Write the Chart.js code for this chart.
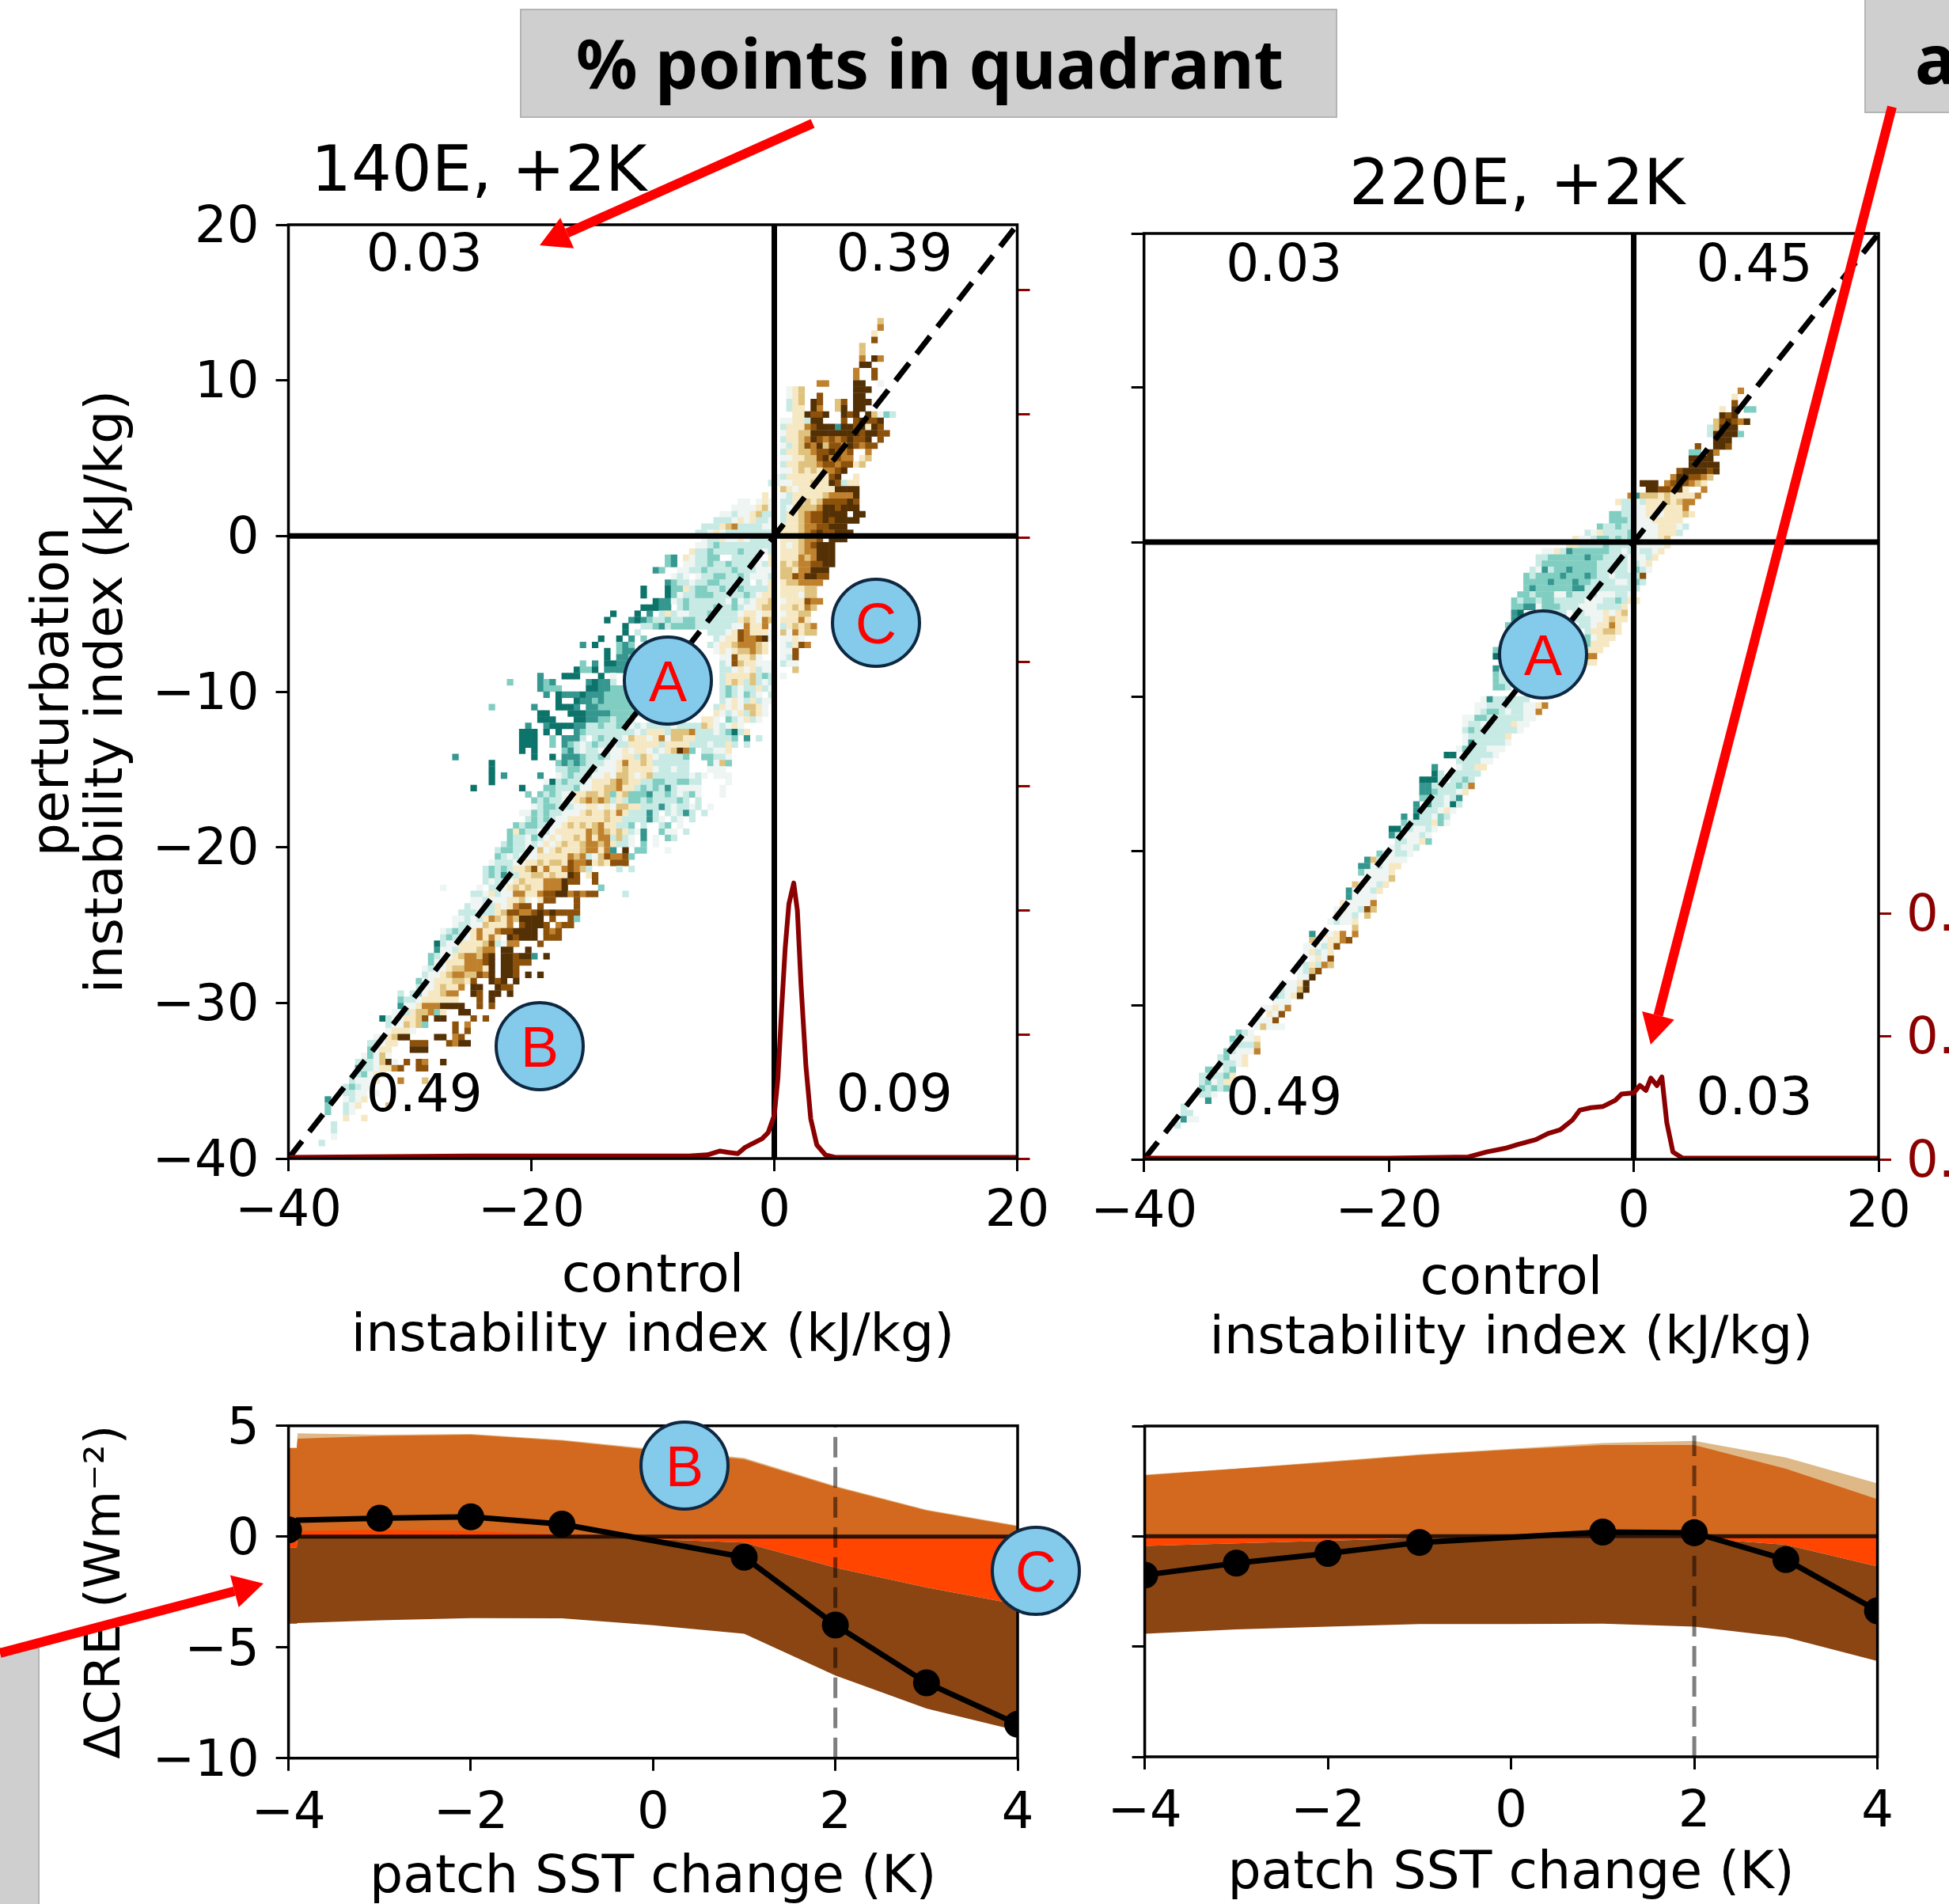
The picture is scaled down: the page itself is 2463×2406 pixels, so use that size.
<!DOCTYPE html>
<html>
<head>
<meta charset="utf-8">
<title>instability index and CRE</title>
<script src="https://cdn.jsdelivr.net/npm/chart.js@4/dist/chart.umd.min.js"></script>
<style>
  html, body { margin: 0; padding: 0; background: #fff; }
  body { position: relative; width: 2463px; height: 2406px; overflow: hidden; }
  canvas { position: absolute; }
  svg { position: absolute; left: 0; top: 0; }
</style>
</head>
<body>
<canvas id="scatter140"></canvas>
<canvas id="scatter220"></canvas>
<canvas id="cre140"></canvas>
<canvas id="cre220"></canvas>
<svg id="notes" width="2463" height="2406" xmlns="http://www.w3.org/2000/svg"></svg>

<script>
// density curves along control instability index
const densX140 = [-40, -25, -12, -7, -5.5, -4.5, -3.8, -3, -2.4, -1.8, -1, -0.5, 0, 0.3, 0.6, 0.9, 1.2, 1.6, 1.9, 2.2, 2.6, 3, 3.5, 4.2, 5, 20]
const densY140 = [0.001, 0.002, 0.002, 0.002, 0.003, 0.006, 0.005, 0.004, 0.009, 0.012, 0.016, 0.021, 0.035, 0.065, 0.12, 0.17, 0.205, 0.222, 0.2, 0.14, 0.075, 0.032, 0.011, 0.003, 0.001, 0.001]
const densX220 = [-40, -20, -13.5, -12, -10.5, -9.5, -8, -7, -6, -5, -4.4, -3.5, -2.5, -1.5, -1, 0, 0.5, 1, 1.4, 1.9, 2.3, 2.7, 3.2, 4, 20]
const densY220 = [0.001, 0.001, 0.002, 0.006, 0.009, 0.012, 0.016, 0.021, 0.024, 0.032, 0.04, 0.042, 0.043, 0.048, 0.053, 0.054, 0.06, 0.056, 0.066, 0.06, 0.067, 0.03, 0.006, 0.001, 0.001]

// fraction of points per quadrant: upper left, upper right, lower left, lower right
const quad140 = ['0.03', '0.39', '0.49', '0.09']
const quad220 = ['0.03', '0.45', '0.49', '0.03']

// heat map colour classes
const heatColors = {
  t: '#0c746a', u: '#35978f', v: '#80cdc1', w: '#c7eae5', x: '#eef5f3',
  a: '#f6e8c3', b: '#dfc27d', c: '#bf812d', d: '#8c510a', e: '#543005'
}

// heat map cells as [row from top, first column, classes], '.' is an empty cell
const heat140 = [
  [15,97,'b'],[16,97,'c'],[17,96,'a'],[18,96,'d'],[19,94,'b'],[20,94,'b'],[21,94,'c.ec'],[22,94,'ee'],[23,93,'c..d'],[24,93,'c..d'],
  [25,87,'cc'],[25,93,'ee..x'],[26,82,'xab'],[26,93,'eee'],[27,82,'xab'],[27,87,'d'],[27,93,'ee'],[28,82,'wab'],[28,86,'ed'],[28,90,'bd.eee'],
  [29,82,'waa'],[29,86,'ec'],[29,90,'be.ee'],[30,83,'aaedde'],[30,91,'ede.ebxvw'],[31,81,'xxaawee'],[31,91,'d.dedde'],
  [32,81,'waaacdeeeueedeaed'],[33,81,'xaabbeeeeeeeedeedd'],[34,81,'waabcedcdcdedde.d'],[35,81,'xwabdcebddcedcdd'],[36,81,'waabbcddedcd..c'],
  [37,81,'xxaabbdecdcc.ab'],[38,81,'waabbbcddcddab'],[39,81,'xxababaccde'],[40,80,'xwaaaaaaade..a'],[41,79,'wxxxaaabaaedwaa'],[42,81,'baxaaaaaaeeee'],
  [43,78,'a'],[43,81,'xwaaaaabcccce'],[44,74,'xx.xax'],[44,81,'wwaababdddded'],[45,73,'xxxxabx'],[45,81,'wxabbbceedeee'],
  [46,71,'xxwxxabww'],[46,81,'waabcddeeee.ee'],[47,70,'wwwxaxawwx'],[47,81,'waabcddedeeee'],[48,68,'wwwabcwwwwxx'],[48,81,'aaabccddeee'],
  [49,67,'wwxaxwwwwwwww'],[49,81,'aaabcdeddeee'],[50,68,'xwwaxxaxwwwx'],[50,81,'aaabccd.eee'],[51,67,'xxwvwwwwwwwww'],[51,81,'axabcdeee'],
  [52,66,'awwvwwwwvwwwxw'],[52,81,'aaabcceee'],[53,62,'vu.axwwvv..wwwwx.a'],[53,81,'aaacbceee'],[54,62,'vu.xxwwvwwvwwwwxwa'],[54,81,'babccddee'],
  [55,60,'uv..xxwwvwwwwvwwwxxx'],[55,81,'bbacceee'],[56,63,'xwx.xwwvvwwvwxxxw'],[56,81,'bbdceedd'],[57,62,'uvwwxwwvvwwwww.wxa'],[57,81,'abbcccc'],
  [58,58,'t...tvvawvvwwvwwvwwwwa'],[58,81,'aaaabb'],[59,58,'t...tvxwwvvvwwwwwvwxaa'],[59,81,'aaaxbb'],[60,60,'tuuxwvwwwwwwxvxwxaab'],[60,81,'xaaadcc'],
  [61,58,'tttuu.wvwwwwvwwvwxxabb'],[61,81,'aabacb'],[62,53,'t'],[62,57,'t.u.wawxxwwwvwwwwxaaxaa'],[62,81,'xaabb'],
  [63,52,'t'],[63,56,'utuvwwvwwvvwwwwwwwabaxcb'],[63,81,'aaaca'],[64,55,'t..wwvuwvvvvwwwwwwxxcaac'],[64,81,'wababc'],
  [65,55,'t.w'],[65,69,'wwwxadcaaax'],[65,81,'bxcabb'],[66,51,'t..t.u.v'],[66,70,'wxaadccdex'],[66,81,'xxax'],
  [67,48,'u.t...vuv'],[67,69,'wxaabcccba'],[67,81,'xwadc'],[68,52,'t.vuu'],[68,70,'xaxabbcba'],[68,81,'xxd'],
  [69,52,'t.uuv'],[69,71,'xxdaabx'],[69,81,'xwd'],[70,48,'v.u.ttuuu'],[70,71,'wxdbaaxxx'],[70,81,'wxx'],
  [71,47,'tvvt.uuuuv'],[71,71,'wwxaxawxx'],[71,83,'b'],[72,41,'u...ttt...t.x'],[72,71,'waaaabwvw'],[72,81,'x'],
  [73,36,'v'],[73,41,'uvu'],[73,49,'utuuw'],[73,71,'wabawbwxw'],[74,41,'uvvv....ttuuvvv'],[74,71,'wvwxwwawx'],
  [75,42,'u.tuuutuuuvvvv'],[75,71,'wvwxvwx.w'],[76,44,'t..tuuvuvvvvv'],[76,71,'wxaxwawxx'],
  [77,33,'v'],[77,40,'u...tttu.uuvvvvvvv'],[77,70,'waxaxbbax'],[78,41,'tt...tttuuuuvvvvw'],[78,70,'axwxawbax'],
  [79,41,'ttt...ttuuvvwvvw'],[79,59,'x'],[79,68,'aax.vwxawx'],[80,39,'u..uttttuuwwvwwvvxwxwwwwxwwwwbaxwxax'],
  [81,38,'ttt.t.t..uvwwwwwwwwxwaaawbbbcwwwxwvtwa'],[82,38,'ttt..v.uuuw.wvwwwxbaaxacxbbaawwwwwwv.u.w'],
  [83,38,'ttt..v.uvwxwvwwxwwaaaaawaaaawwwxwwaw.w'],[84,38,'t.t'],[84,45,'vuwxwwxwxxaxaaxwxabecv.wwxxa'],
  [85,27,'u'],[85,40,'t..t.uuuvwwvwxxaawbaxwwwwv..vvwwx'],[86,33,'t'],[86,44,'vuvuvwwwxxacaabawwwwww...vxbv'],
  [87,33,'t'],[87,44,'wwvvwwwxxxabaaaaxwwxww...xxx'],[88,33,'t.u'],[88,41,'u'],[88,44,'xwvwwwxxaxbbaxabwwwwwwxwx.xxx'],
  [89,33,'t'],[89,42,'xtwvwwwxaaabcbaawwvvwwvvww....x'],[90,30,'t'],[90,38,'t'],[90,42,'vvwwwvxxaabbcaawvwvwuwxxxx...x'],
  [91,39,'v.vwvwxxaabbabvabvvvuwwvwxwvx...x'],[92,40,'vwvwwxxabcbcbwawvvwvwwwwvw.w'],[93,40,'xwvvwwwxxaaxaxbbaawwwuwxwwxw.x'],
  [94,38,'xxvwvwwxxxabaabacawwwuw.wxwuw.w'],[95,39,'wvwvwxxaaaaaabaawwwwuwx.wx.w'],[96,37,'vwvvwwxxabababcaawwv.w..wv.x'],
  [97,36,'vavwwxwxaaaaacbcbabawxu..vxx.w'],[98,36,'vwwxvwxaxaabacaccwbwx'],[98,58,'u.x.vw'],[99,35,'wvwwxwxaxabaabccbcawwx.v.x'],
  [100,34,'wvvwwxxbxabaaabccacu.e'],[100,57,'vv...x'],[101,34,'vwxwxxxaaaaacbcwxbdccdv'],[102,33,'xwwwxxaababbadccdabaddd'],
  [103,32,'wvwvwaabdacaacdcbw'],[103,54,'w.w'],[104,32,'wvwuwwaabbabaaed.ad'],[105,32,'wxwwxabaaacccedd'],[105,50,'d'],
  [106,25,'x'],[106,31,'x.wwxababaaccce'],[106,51,'v'],[107,30,'wwxawxxccaacddeecdcdd'],[107,55,'w'],[108,30,'xxwxxxaabx.add'],[108,47,'d'],
  [109,29,'wxxwwaxacdd.d'],[109,47,'d'],[110,28,'wwwxwwabddccdededddd'],[111,27,'xxwxwacbacbeeee.d..dv'],[112,27,'xwwxxbaaac.deeed.cdd'],
  [113,25,'xwvwxacaacddeeee.dcd'],[114,25,'wvwwxacaca.edeee.ddd'],[115,24,'twxxaaaabdwxcc'],[115,41,'d'],[116,24,'uxxwaaabcc.ee..e'],
  [117,23,'vwxxabccbde.eedeeu.e'],[118,23,'vxxaaacccde.eeddd'],[119,22,'xwxxabbcccae.eed'],[120,22,'wxxabccbbdce.eed'],[120,39,'e'],[120,41,'e'],
  [121,21,'vxxaaabbad..ede.e'],[122,21,'wxxabaac.ee..edd'],[123,18,'w.wvxaabcc'],[123,30,'ed.ee.e'],[124,18,'vwwxaaaaaa'],[124,31,'d.e'],
  [125,18,'uxxaccceeee'],[125,31,'d.d'],[126,17,'xxwabbcva'],[126,28,'ee'],[127,15,'twxxaabd.ee'],[127,30,'d'],[127,32,'d'],
  [128,16,'wxxbabv'],[128,27,'d.c'],[129,16,'xaaax'],[129,27,'d.d'],[130,14,'xxabee'],[130,24,'ee.cd'],[131,13,'wwxaa..ddd'],[131,26,'dcee'],
  [132,13,'vxaa...eee'],[133,12,'xvxbx'],[134,11,'wwwxbex.d.dc'],[134,25,'e'],[135,11,'uwwxaacd..dd'],[136,11,'wvxaa'],
  [137,10,'wxxxa'],[137,18,'c'],[137,22,'b'],[138,9,'wvwxx'],[139,9,'wwxx.x'],[140,6,'u..xwxa'],[141,6,'v..wxa'],[141,16,'b'],[142,6,'v..wx'],
  [143,9,'a..a'],[144,7,'w'],[145,7,'w'],[146,7,'x'],[147,5,'w']
]

const heat220 = [
  [25,97,'c'],[26,96,'a'],[27,96,'d'],[28,94,'a.e.vv'],[29,94,'ede'],[30,93,'bdedce'],[31,92,'wbeee'],[32,92,'weeeev'],[33,93,'eee'],
  [34,90,'d'],[34,93,'eed'],[35,89,'vv.ec'],[36,89,'eeee'],[37,89,'eeeee'],[38,87,'deeeede'],[39,86,'ceeddcb'],
  [40,81,'eee.cdedcba'],[41,82,'eeddcea'],[41,91,'c'],[42,79,'cubbbabaaaac'],[43,77,'awwxwaaababcc'],[44,78,'wwxxaaaaaac'],
  [45,76,'vvwwxxaaxaaaba'],[46,76,'vvvwxxxaaaaa'],[47,74,'vwwvwwxxxxaaaxw'],[48,72,'wxawwwwvxxxxaaaw'],[49,70,'axxwvvwvwvxxxxab'],
  [50,69,'aawwwwvwwwwxxxxxa'],[51,65,'xxawuvvvvvvwwxwxwwxa'],[52,64,'wwvvvvvvuvvwwwwxxxwa'],[53,64,'wvvvvvvvvvwwwwwxwxa'],
  [54,63,'wxuwvvuvvvvwwwwwxvwx'],[55,62,'vwvvvvuvvvuvwwxwwwwd'],[56,62,'vvvvuvvvuvvwwwwxxwvw'],[57,62,'vuvvvvvvuuwwwwwwwww'],
  [58,61,'vvwvvvxxvwwwwxxxwwx'],[59,60,'vwvvwvvwwwwwxxxwwvwaa'],[60,60,'vvuuxvvvwwwxxxwwwwa'],[61,60,'ut'],[61,67,'ww.wwxxxaxab'],[62,60,'ut'],[62,70,'wwwxxabaa'],
  [63,59,'vu'],[63,71,'wwxaaca'],[64,72,'waabba'],[65,72,'vxaaa'],[66,58,'w'],[66,72,'vaaa'],[67,57,'vv'],[67,72,'aaa'],[68,57,'tv'],[68,72,'cc'],[69,72,'aa'],
  [70,57,'u'],[71,57,'vw'],[72,57,'vww'],[73,57,'vvw'],[75,55,'xuwwvwww'],[76,54,'xxwwwwwwxxac'],[77,54,'xwvvwxwwxxc'],[78,52,'xxvvwwwwwwxx'],
  [79,52,'xwwxwwwwaxx'],[80,52,'wvwwwwwwwx'],[81,52,'xwwwwwwa'],[82,52,'xuwwwwwx'],[83,51,'xvwwwxxx'],[84,49,'tt.wwwwwx'],[85,51,'wwwwxx'],
  [86,47,'u...xwwaa'],[87,47,'tw.wwwww'],[88,45,'tttw.wwvw'],[89,45,'uuwwwwvwc'],[90,45,'uuvwwwxa'],[91,45,'vvwwxwu'],[92,44,'u.uwwxtw'],[93,44,'uwwwxax'],
  [94,42,'u.twwxvw'],[95,42,'vwwwwavx'],[96,40,'ttwwxxwx'],[97,40,'uwxxxwx'],[98,41,'wwxxav'],[99,40,'xwxxw'],[100,38,'vwxwwx'],[101,36,'ubwxxxx'],
  [102,35,'uuxwxaa'],[103,35,'vxxxxa'],[104,36,'xxxxb'],[105,34,'baxxwa'],[106,33,'uxxxwa'],[107,33,'uxxxx'],[108,32,'axxxxc'],[109,31,'xaxxwdb'],
  [110,31,'axxw.b'],[111,30,'xwxxa'],[112,34,'b'],[113,27,'u.axac.c'],[114,27,'b.xaacd'],[115,26,'xxxwad'],[116,26,'xawxa'],
  [117,27,'xaxd'],[118,25,'xwawcb'],[119,25,'xwbd'],[120,25,'xxe'],[121,22,'xxxae'],[122,22,'wxxbe'],[123,21,'vwxae'],[124,21,'xxx'],
  [125,19,'xxaxc'],[126,20,'axd'],[127,18,'xxxd'],[128,18,'xbxxx'],[129,15,'vwx'],[130,14,'vwxxa'],[131,14,'wwwwb'],[132,13,'vwxxxc'],
  [133,12,'wvxxa'],[134,12,'wwwxa'],[135,10,'vvxwv'],[136,9,'wwwwva'],[137,9,'wvxwaa'],[138,9,'vwvwv'],[139,9,'wwx'],[140,10,'u'],
  [141,6,'w'],[142,6,'ww'],[143,6,'uxx'],[144,5,'w']
]

// top of the right hand density axis, aligned with the panel height
const densMax = 0.7525

// change in CRE against patch SST change
const bandX140 = [-4, -3.91, -3.9, -3, -2, -1, 0, 1, 2, 3, 4]
const tanTop140 = [4.0, 4.0, 4.66, 4.6, 4.63, 4.36, 3.95, 3.55, 2.28, 1.21, 0.5]
const orangeTop140 = [4.0, 4.0, 4.42, 4.54, 4.6, 4.33, 3.9, 3.49, 2.24, 1.18, 0.46]
const redTop140 = [-0.1, -0.1, 0.25, 0.3, 0.25, 0.1, 0, 0, 0, 0, 0]
const brownTop140 = [-0.5, -0.5, 0, 0, 0, 0, -0.12, -0.27, -1.4, -2.3, -3.06]
const brownBottom140 = [-3.93, -3.93, -3.9, -3.78, -3.68, -3.69, -4.0, -4.39, -6.27, -7.76, -8.76]
const creX140 = [-4, -3.9, -3, -2, -1, 1, 2, 3, 4]
const creY140 = [0.3, 0.74, 0.83, 0.89, 0.56, -0.93, -3.99, -6.6, -8.47]
const creSize140 = [17, 0, 17, 17, 17, 17, 17, 17, 17]

const bandX220 = [-4, -3, -2, -1, 0, 1, 2, 3, 4]
const tanTop220 = [2.79, 3.07, 3.39, 3.72, 3.97, 4.23, 4.33, 3.57, 2.4]
const orangeTop220 = [2.77, 3.06, 3.36, 3.68, 3.93, 4.14, 4.14, 3.06, 1.68]
const redTop220 = [0, 0, 0, 0, 0, 0, 0, 0, 0]
const brownTop220 = [-0.44, -0.32, -0.2, -0.08, -0.08, -0.08, -0.08, -0.38, -1.37]
const brownBottom220 = [-4.42, -4.22, -4.1, -3.98, -3.98, -3.96, -4.1, -4.58, -5.66]
const creX220 = [-4, -3, -2, -1, 1, 2, 3, 4]
const creY220 = [-1.76, -1.22, -0.78, -0.28, 0.19, 0.16, -1.06, -3.38]
const creSize220 = [17, 17, 17, 17, 17, 17, 17, 17]

const fontFamily = "'DejaVu Sans', sans-serif"
const darkRed = '#8b0000'

// turn the cell rows into scatter points, 120 x 150 bins over the axes
function heatPoints (rows) {
  const points = []
  const colors = []
  for (const [row, col, cells] of rows) {
    for (let i = 0; i < cells.length; i++) {
      if (cells[i] === '.') continue
      points.push({ x: -40 + 0.5 * (col + i + 0.5), y: 20 - 0.4 * (row + 0.5) })
      colors.push(heatColors[cells[i]])
    }
  }
  return { points, colors }
}

function toXY (xs, ys) {
  return xs.map((x, i) => ({ x: x, y: ys[i] }))
}

function minusLabel (value) {
  return String(value).replace('-', '\u2212')
}

function axisStyle (tickColor, fixed) {
  return {
    border: { display: false },
    grid: { drawOnChartArea: false, drawTicks: true, tickLength: 16, tickWidth: 3, tickColor: tickColor },
    afterFit: fixed
  }
}

// frame around the plot and the optional quadrant numbers
function framePlugin (labels, at) {
  return {
    id: 'frame',
    afterDatasetsDraw (chart) {
      const { ctx, chartArea, scales } = chart
      ctx.save()
      ctx.strokeStyle = '#000'
      ctx.lineWidth = 3.5
      ctx.strokeRect(chartArea.left, chartArea.top, chartArea.width, chartArea.height)
      if (labels) {
        ctx.fillStyle = '#000'
        ctx.font = '66px ' + fontFamily
        ctx.textBaseline = 'middle'
        labels.forEach((text, i) => {
          ctx.fillText(text, scales.x.getPixelForValue(at[i][0]), scales.y.getPixelForValue(at[i][1]))
        })
      }
      ctx.restore()
    }
  }
}

function setBox (id, left, top, right, bottom) {
  const canvas = document.getElementById(id)
  canvas.width = right - left
  canvas.height = bottom - top
  canvas.style.left = left + 'px'
  canvas.style.top = top + 'px'
  return canvas
}

function scatterPanel (id, box, plot, rows, densX, densY, labels, opts) {
  const heat = heatPoints(rows)
  const tickFont = { family: fontFamily, size: 64 }
  new Chart(setBox(id, box.left, box.top, box.right, box.bottom), {
    type: 'line',
    data: {
      datasets: [
        { type: 'line', data: toXY(densX, densY), yAxisID: 'y2', borderColor: darkRed, borderWidth: 6, borderJoinStyle: 'round', pointRadius: 0, tension: 0, order: 1, clip: 0 },
        { type: 'line', data: toXY([-40, 20], [-40, 20]), borderColor: '#000', borderWidth: 7, borderDash: [28, 15], pointRadius: 0, order: 2, clip: 0 },
        { type: 'line', data: toXY([0, 0], [-40, 20]), borderColor: '#000', borderWidth: 7, pointRadius: 0, order: 3, clip: 0 },
        { type: 'line', data: toXY([-40, 20], [0, 0]), borderColor: '#000', borderWidth: 7, pointRadius: 0, order: 3, clip: 0 },
        { type: 'scatter', data: heat.points, backgroundColor: heat.colors, pointStyle: 'rect', pointRadius: 5.8, pointBorderWidth: 0, order: 4, clip: 0 }
      ]
    },
    options: {
      responsive: false,
      animation: false,
      events: [],
      layout: { padding: { top: plot.top - box.top } },
      plugins: { legend: { display: false }, tooltip: { enabled: false } },
      scales: {
        x: {
          type: 'linear', min: -40, max: 20,
          ...axisStyle('#000', s => { s.height = box.bottom - plot.bottom }),
          ticks: { stepSize: 20, font: tickFont, color: '#000', padding: 14, maxRotation: 0, callback: minusLabel },
          title: { display: true, text: ['control', 'instability index (kJ/kg)'], color: '#000', padding: 0, font: { family: fontFamily, size: 66.5, lineHeight: 1.13 } }
        },
        y: {
          type: 'linear', min: -40, max: 20,
          ...axisStyle('#000', s => { s.width = plot.left - box.left }),
          ticks: { stepSize: 10, font: tickFont, color: '#000', padding: 21, labelOffset: 5, callback: opts.yLabels ? minusLabel : () => '' },
          title: { display: opts.yLabels, text: ['perturbation', 'instability index (kJ/kg)'], color: '#000', padding: 0, font: { family: fontFamily, size: 66.5, lineHeight: 1.02 } }
        },
        y2: {
          type: 'linear', position: 'right', min: 0, max: densMax,
          ...axisStyle(darkRed, s => { s.width = box.right - plot.right }),
          afterBuildTicks: s => { s.ticks = s.ticks.filter(t => t.value <= opts.densTop + 0.01) },
          ticks: { stepSize: 0.1, font: tickFont, color: darkRed, padding: 19, labelOffset: 5, callback: v => opts.densLabels ? v.toFixed(1) : '' }
        }
      }
    },
    plugins: [framePlugin(labels, opts.labelAt)]
  })
}

function crePanel (id, box, plot, s, opts) {
  const tickFont = { family: fontFamily, size: 64 }
  new Chart(setBox(id, box.left, box.top, box.right, box.bottom), {
    type: 'line',
    data: {
      datasets: [
        { data: toXY(s.creX, s.creY), borderColor: '#000', backgroundColor: '#000', borderWidth: 7, pointRadius: s.creSize, pointBorderWidth: 0, tension: 0, order: 1, clip: 0 },
        { data: toXY([2, 2], [-10, 5]), borderColor: 'rgba(0,0,0,0.5)', borderWidth: 5, borderDash: [26, 12], pointRadius: 0, order: 2, clip: 0 },
        { data: toXY([-4, 4], [0, 0]), borderColor: 'rgba(0,0,0,0.8)', borderWidth: 5, pointRadius: 0, order: 3, clip: 0 },
        { data: toXY(s.bandX, s.brownTop), borderWidth: 0, pointRadius: 0, backgroundColor: '#8b4513', fill: '+1', order: 4, clip: 0 },
        { data: toXY(s.bandX, s.brownBottom), borderWidth: 0, pointRadius: 0, order: 9, clip: 0 },
        { data: toXY(s.bandX, s.redTop), borderWidth: 0, pointRadius: 0, backgroundColor: '#ff4500', fill: { target: 3 }, order: 5, clip: 0 },
        { data: toXY(s.bandX, s.orangeTop), borderWidth: 0, pointRadius: 0, backgroundColor: '#d2691e', fill: { value: 0 }, order: 6, clip: 0 },
        { data: toXY(s.bandX, s.tanTop), borderWidth: 0, pointRadius: 0, backgroundColor: '#deb887', fill: { value: 0 }, order: 7, clip: 0 }
      ]
    },
    options: {
      responsive: false,
      animation: false,
      events: [],
      layout: { padding: { top: plot.top - box.top, right: box.right - plot.right } },
      plugins: { legend: { display: false }, tooltip: { enabled: false } },
      scales: {
        x: {
          type: 'linear', min: -4, max: 4,
          ...axisStyle('#000', a => { a.height = box.bottom - plot.bottom }),
          ticks: { stepSize: 2, font: tickFont, color: '#000', padding: 17, maxRotation: 0, callback: minusLabel },
          title: { display: true, text: 'patch SST change (K)', color: '#000', padding: 0, font: { family: fontFamily, size: 66.5, lineHeight: 1.06 } }
        },
        y: {
          type: 'linear', min: -10, max: 5,
          ...axisStyle('#000', a => { a.width = plot.left - box.left }),
          ticks: { stepSize: 5, font: tickFont, color: '#000', padding: 21, labelOffset: 6, callback: opts.yLabels ? minusLabel : () => '' },
          title: { display: opts.yLabels, text: '\u0394CRE (Wm\u207B\u00B2)', color: '#000', padding: 0, font: { family: fontFamily, size: 63, lineHeight: 1.13 } }
        }
      }
    },
    plugins: [framePlugin(null)]
  })
}

scatterPanel('scatter140',
  { left: 35, top: 224, right: 1385, bottom: 1727 },
  { left: 364.5, top: 284, right: 1285.5, bottom: 1464 },
  heat140, densX140, densY140, quad140,
  { yLabels: true, densLabels: false, densTop: 0.7, labelAt: [[-33.6, 17.9], [5.1, 17.9], [-33.6, -36.1], [5.1, -36.1]] })

scatterPanel('scatter220',
  { left: 1300, top: 235, right: 2463, bottom: 1730 },
  { left: 1445.7, top: 295, right: 2374, bottom: 1465 },
  heat220, densX220, densY220, quad220,
  { yLabels: false, densLabels: true, densTop: 0.2, labelAt: [[-33.3, 17.8], [5.1, 17.8], [-33.3, -36.2], [5.1, -36.2]] })

crePanel('cre140',
  { left: 99, top: 1741, right: 1385, bottom: 2409 },
  { left: 364.6, top: 1801.7, right: 1286, bottom: 2221.7 },
  { bandX: bandX140, tanTop: tanTop140, orangeTop: orangeTop140, redTop: redTop140, brownTop: brownTop140, brownBottom: brownBottom140, creX: creX140, creY: creY140, creSize: creSize140 },
  { yLabels: true })

crePanel('cre220',
  { left: 1300, top: 1742, right: 2463, bottom: 2404 },
  { left: 1446.6, top: 1802, right: 2372.6, bottom: 2220 },
  { bandX: bandX220, tanTop: tanTop220, orangeTop: orangeTop220, redTop: redTop220, brownTop: brownTop220, brownBottom: brownBottom220, creX: creX220, creY: creY220, creSize: creSize220 },
  { yLabels: false })

// annotations pasted over the figure
const svg = document.getElementById('notes')
function add (tag, attrs, text) {
  const el = document.createElementNS('http://www.w3.org/2000/svg', tag)
  for (const k in attrs) el.setAttribute(k, attrs[k])
  if (text) el.textContent = text
  svg.appendChild(el)
}

function arrow (x1, y1, x2, y2) {
  const len = Math.hypot(x2 - x1, y2 - y1)
  const ux = (x2 - x1) / len
  const uy = (y2 - y1) / len
  const bx = x2 - ux * 38
  const by = y2 - uy * 38
  add('line', { x1: x1, y1: y1, x2: bx, y2: by, stroke: '#ff0000', 'stroke-width': 12 })
  add('polygon', {
    points: [x2, y2, bx - uy * 21, by + ux * 21, bx + uy * 21, by - ux * 21].join(' '),
    fill: '#ff0000'
  })
}

function badge (x, y, letter) {
  add('circle', { cx: x, cy: y, r: 55, fill: '#83caeb', stroke: '#0e2841', 'stroke-width': 4 })
  add('text', { x: x, y: y + 26, 'text-anchor': 'middle', 'font-family': 'Liberation Sans', 'font-size': 72, fill: '#ff0000' }, letter)
}

const panelTitle = { 'font-family': 'DejaVu Sans', 'font-size': 80, fill: '#000' }
add('text', { x: 393, y: 241, ...panelTitle }, '140E, +2K')
add('text', { x: 1705, y: 258, ...panelTitle }, '220E, +2K')

const boxStyle = { fill: '#cfcfcf', stroke: '#b4b4b4', 'stroke-width': 2 }
add('rect', { x: 658, y: 12, width: 1031, height: 136, ...boxStyle })
add('rect', { x: 2357, y: -5, width: 120, height: 147, ...boxStyle })
add('rect', { x: -5, y: 2083, width: 54, height: 340, ...boxStyle })
const boxText = { 'font-family': 'Noto Sans', 'font-weight': 'bold', 'font-size': 86, fill: '#000' }
add('text', { x: 728, y: 112, ...boxText }, '% points in quadrant')
add('text', { x: 2420, y: 106, ...boxText }, 'a')

arrow(1027, 156, 682, 310)
arrow(2391, 135, 2086, 1320)
arrow(0, 2089, 333, 2001)

badge(844, 860, 'A')
badge(1107, 787, 'C')
badge(682, 1322, 'B')
badge(1950, 827, 'A')
badge(865, 1852, 'B')
badge(1309, 1985, 'C')
</script>
</body>
</html>
